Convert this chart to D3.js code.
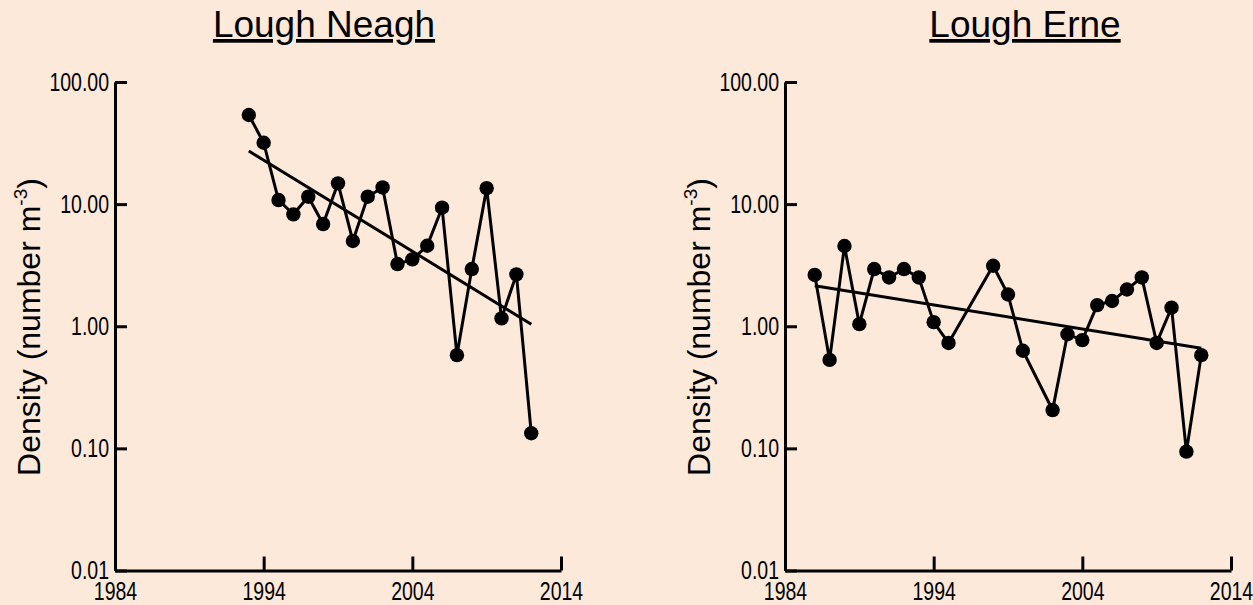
<!DOCTYPE html>
<html>
<head>
<meta charset="utf-8">
<script src="https://cdn.jsdelivr.net/npm/d3@7"></script>
<style>
  html, body { margin: 0; padding: 0; background: #FDE9D9; }
  svg { display: block; }
</style>
</head>
<body>
<svg id="chart" width="1253" height="605"></svg>
<script>
// ---- Data ----
const neaghYears = [1993,1994,1995,1996,1997,1998,1999,2000,2001,2002,2003,2004,2005,2006,2007,2008,2009,2010,2011,2012];
const neaghDensity = [53.7,31.8,10.8,8.25,11.5,6.87,14.8,4.99,11.5,13.7,3.23,3.53,4.56,9.35,0.58,2.94,13.5,1.16,2.66,0.133];
const neaghTrendYears = [1993, 2012];
const neaghTrendDensity = [27.2, 1.04];

const erneYears = [1986,1987,1988,1989,1990,1991,1992,1993,1994,1995,1998,1999,2000,2002,2003,2004,2005,2006,2007,2008,2009,2010,2011,2012];
const erneDensity = [2.63,0.53,4.54,1.04,2.94,2.51,2.94,2.51,1.08,0.73,3.13,1.82,0.63,0.206,0.86,0.77,1.49,1.61,2.00,2.51,0.73,1.42,0.094,0.58];
const erneTrendYears = [1986, 2012];
const erneTrendDensity = [2.15, 0.66];

const xTicks = [1984, 1994, 2004, 2014];
const yTicks = [0.01, 0.1, 1, 10, 100];
const titles = ["Lough Neagh", "Lough Erne"];

// ---- Drawing ----
const svg = d3.select("#chart");
svg.append("rect").attr("width", 1253).attr("height", 605).attr("fill", "#FDE9D9");

const mainFont = "'Liberation Sans', Arial, Helvetica, sans-serif";
const squeeze = 0.78;

const y = d3.scaleLog().domain([0.01, 100]).range([570.5, 82]);

const panels = [
  { title: titles[0], x0: 115, titleX: 324, years: neaghYears, vals: neaghDensity, tY: neaghTrendYears, tV: neaghTrendDensity },
  { title: titles[1], x0: 785, titleX: 1025, years: erneYears, vals: erneDensity, tY: erneTrendYears, tV: erneTrendDensity }
];

panels.forEach(p => {
  const x = d3.scaleLinear().domain([1984, 2014]).range([p.x0, p.x0 + 446]);
  const g = svg.append("g");

  // title
  g.append("text")
    .attr("x", p.titleX).attr("y", 37)
    .attr("text-anchor", "middle")
    .attr("font-family", mainFont)
    .attr("font-size", 37)
    .attr("text-decoration", "underline")
    .attr("fill", "#000")
    .text(p.title);

  // y axis
  const yAxis = d3.axisLeft(y).tickValues(yTicks).tickFormat(d3.format(".2f"))
    .tickSizeInner(-12).tickSizeOuter(0).tickPadding(6);
  const ya = g.append("g").attr("transform", `translate(${x(1984)},0)`).call(yAxis);
  ya.select(".domain").attr("stroke", "#000").attr("stroke-width", 3);
  ya.selectAll(".tick line").attr("stroke", "#000").attr("stroke-width", 3);
  ya.selectAll(".tick text").attr("font-family", mainFont).attr("font-size", 25)
    .attr("fill", "#000").attr("x", -6 / squeeze).attr("transform", `scale(${squeeze},1)`);

  // x axis
  const xAxis = d3.axisBottom(x).tickValues(xTicks).tickFormat(d3.format("d"))
    .tickSizeInner(-14).tickSizeOuter(0).tickPadding(12);
  const xa = g.append("g").attr("transform", `translate(0,${y(0.01)})`).call(xAxis);
  xa.select(".domain").attr("stroke", "#000").attr("stroke-width", 3);
  xa.selectAll(".tick line").attr("stroke", "#000").attr("stroke-width", 3);
  xa.selectAll(".tick text").attr("font-family", mainFont).attr("font-size", 25)
    .attr("fill", "#000").attr("transform", `scale(${squeeze},1)`);

  // y label
  const lbl = g.append("text")
    .attr("transform", `translate(${p.x0 - 75},327) rotate(-90)`)
    .attr("text-anchor", "middle")
    .attr("font-family", mainFont)
    .attr("font-size", 32)
    .attr("fill", "#000");
  lbl.append("tspan").text("Density (number m");
  lbl.append("tspan").attr("font-size", 19).attr("dy", -13).text("-3");
  lbl.append("tspan").attr("dy", 13).text(")");

  // data line
  const pts = p.years.map((yr, i) => [yr, p.vals[i]]);
  const line = d3.line().x(d => x(d[0])).y(d => y(d[1]));
  g.append("path").datum(pts).attr("d", line)
    .attr("fill", "none").attr("stroke", "#000").attr("stroke-width", 3);

  // trend line
  const tpts = p.tY.map((yr, i) => [yr, p.tV[i]]);
  g.append("path").datum(tpts).attr("d", line)
    .attr("fill", "none").attr("stroke", "#000").attr("stroke-width", 3);

  // points
  g.selectAll("circle.pt").data(pts).enter().append("circle")
    .attr("class", "pt")
    .attr("cx", d => x(d[0])).attr("cy", d => y(d[1]))
    .attr("r", 7.2).attr("fill", "#000");
});
</script>
</body>
</html>
